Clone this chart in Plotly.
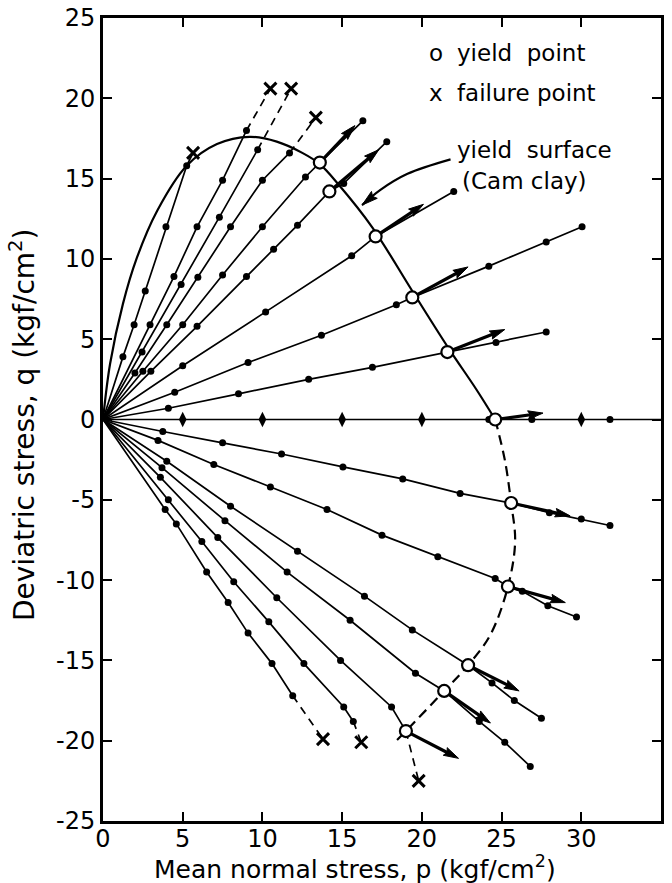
import math
import plotly.graph_objects as go

# ---------------- data (kgf/cm^2) ----------------
# compression-side stress paths (origin + measured points)
A_p = [0, 1.25, 1.95, 2.65, 3.95, 5.25]
A_q = [0, 3.9, 5.9, 8.0, 12.0, 15.8]
B_p = [0, 2.95, 4.45, 5.9, 7.5, 9.0]
B_q = [0, 5.9, 8.9, 12.0, 14.9, 18.0]
C_p = [0, 2.45, 4.9, 7.3, 9.7]
C_q = [0, 4.2, 8.4, 12.6, 16.8]
D_p = [0, 2.0, 4.0, 5.95, 8.0, 10.0, 11.7]
D_q = [0, 2.9, 5.9, 8.85, 12.0, 14.9, 16.6]
E_p = [0, 2.5, 5.0, 7.5, 10.0, 12.7, 16.3]
E_q = [0, 3.0, 5.9, 9.0, 12.0, 15.1, 18.6]
F_p = [0, 3.0, 5.9, 9.0, 10.7, 12.2, 15.1, 17.8]
F_q = [0, 3.0, 5.8, 8.9, 10.6, 12.1, 14.7, 17.3]
G_p = [0, 5.0, 10.2, 15.6, 22.0]
G_q = [0, 3.35, 6.7, 10.2, 14.2]
H_p = [0, 4.5, 9.1, 13.7, 18.4, 24.2, 27.8, 30.05]
H_q = [0, 1.7, 3.55, 5.25, 7.15, 9.55, 11.05, 12.0]
I_p = [0, 4.1, 8.5, 12.9, 16.9, 24.65, 27.8]
I_q = [0, 0.7, 1.6, 2.5, 3.25, 4.8, 5.45]

# isotropic path (q = 0)
Z_line_p = [0, 35]
Z_line_q = [0, 0]
Z_dot_p = [24.2, 26.9, 31.8]
Z_tick_p = [5, 10, 15, 20, 30]

# extension-side stress paths
J_p = [0, 3.75, 7.5, 11.2, 15.05, 18.8, 22.4, 28.0, 30.0, 31.8]
J_q = [0, -0.75, -1.45, -2.15, -2.95, -3.7, -4.6, -5.8, -6.2, -6.6]
K_p = [0, 3.45, 6.95, 10.5, 14.05, 17.5, 21.0, 24.6, 26.3, 27.9, 29.7]
K_q = [0, -1.3, -2.8, -4.2, -5.6, -7.2, -8.55, -9.9, -10.7, -11.6, -12.3]
L_p = [0, 4.0, 8.0, 12.2, 16.4, 19.4, 24.4, 25.8, 27.5]
L_q = [0, -2.6, -5.4, -8.2, -11.0, -13.1, -16.4, -17.5, -18.6]
M_p = [0, 3.7, 7.65, 11.55, 15.5, 19.6, 23.6, 25.2, 26.8]
M_q = [0, -3.0, -6.3, -9.5, -12.5, -15.8, -18.8, -20.1, -21.6]
N_p = [0, 3.6, 7.2, 10.9, 14.9, 18.1]
N_q = [0, -3.6, -7.35, -11.1, -15.0, -17.9]
O_p = [0, 4.1, 6.2, 8.2, 10.4, 12.6, 15.1, 15.7]
O_q = [0, -5.0, -7.6, -10.1, -12.6, -15.2, -17.9, -18.8]
P_p = [0, 3.9, 4.6, 6.5, 7.85, 9.1, 10.6, 11.9]
P_q = [0, -5.6, -6.5, -9.5, -11.4, -13.3, -15.2, -17.2]

# yield points (paths E, F, G, H, I, Z, J, K, L, M, N) and strain-increment arrow tips
yield_p = [13.6, 14.2, 17.1, 19.4, 21.6, 24.6, 25.6, 25.4, 22.9, 21.4, 19.0]
yield_q = [16.0, 14.2, 11.4, 7.6, 4.2, 0.0, -5.2, -10.4, -15.3, -16.9, -19.4]
tip_p = [15.8, 17.3, 20.1, 22.9, 25.2, 27.6, 29.3, 29.0, 26.1, 24.3, 22.3]
tip_q = [18.3, 16.8, 13.4, 9.5, 5.6, 0.4, -6.0, -11.4, -16.9, -18.9, -21.1]

# failure points (paths A, B, C, D, P, O, N)
fail_p = [5.65, 10.5, 11.8, 13.35, 13.8, 16.2, 19.8]
fail_q = [16.6, 20.6, 20.6, 18.8, -19.9, -20.1, -22.5]

# yield surface (Cam clay): solid part and dashed part
ys_p = [0, 0.45, 1.25, 2.1, 3.4, 5.25, 7.15, 9.2, 10.9, 12.5, 13.6, 14.8, 16.9, 19.4, 21.7, 23.4, 24.6]
ys_q = [0, 3.5, 7.2, 10.0, 13.0, 15.8, 17.15, 17.6, 17.3, 16.6, 15.9, 14.6, 11.95, 8.0, 4.4, 1.9, 0]
yd_p = [24.6, 25.2, 25.6, 25.85, 25.4, 24.3, 22.9, 21.4, 19.0, 18.4]
yd_q = [0, -2.5, -5.2, -7.6, -10.4, -13.4, -15.3, -16.9, -19.4, -20.0]

# callout curve from label to the yield surface
call_p = [21.8, 19.1, 17.4, 16.25]
call_q = [16.2, 15.3, 14.3, 13.35]

x_ticks = [0, 5, 10, 15, 20, 25, 30, 35]
x_ticktext = ["0", "5", "10", "15", "20", "25", "30", "35"]
y_ticks = [-25, -20, -15, -10, -5, 0, 5, 10, 15, 20, 25]
y_ticktext = ["-25", "-20", "-15", "-10", "-5", "0", "5", "10", "15", "20", "25"]

# ---------------- figure ----------------
W, H = 672, 883
ML, MR, MT, MB = 103, 11, 18, 62
PW, PH = W - ML - MR, H - MT - MB
SX = PW / 35.0
SY = PH / 50.0
FONT = "DejaVu Sans"

fig = go.Figure()


def add_line(px, py, dash=None, width=1.7, shape="linear"):
    fig.add_trace(go.Scatter(x=px, y=py, mode="lines",
                             line=dict(color="black", width=width, dash=dash, shape=shape),
                             hoverinfo="skip", showlegend=False))


def add_head(p0, q0, p1, q1, L=15.0, w=4.3):
    dx = (p1 - p0) * SX
    dy = (q1 - q0) * SY
    n = math.hypot(dx, dy)
    ux, uy = dx / n, dy / n
    nx, ny = -uy, ux
    bx, by = -ux * L, -uy * L
    pts = [(0, 0), (bx + nx * w, by + ny * w), (bx * 0.85, by * 0.85), (bx - nx * w, by - ny * w), (0, 0)]
    xs = [p1 + a / SX for a, b in pts]
    ys = [q1 + b / SY for a, b in pts]
    fig.add_trace(go.Scatter(x=xs, y=ys, mode="lines", fill="toself", fillcolor="black",
                             line=dict(color="black", width=1), hoverinfo="skip", showlegend=False))
    return p1 + bx * 0.6 / SX, q1 + by * 0.6 / SY


# yield surface
add_line(ys_p, ys_q, width=2.2, shape="spline")
add_line(yd_p, yd_q, width=2.2, dash="10px,6px", shape="spline")

comp_paths = [(A_p, A_q), (B_p, B_q), (C_p, C_q), (D_p, D_q), (E_p, E_q), (F_p, F_q),
              (G_p, G_q), (H_p, H_q), (I_p, I_q)]
ext_paths = [(J_p, J_q), (K_p, K_q), (L_p, L_q), (M_p, M_q), (N_p, N_q), (O_p, O_q), (P_p, P_q)]
yield_paths = [(E_p, E_q), (F_p, F_q), (G_p, G_q), (H_p, H_q), (I_p, I_q), (Z_line_p, Z_line_q),
               (J_p, J_q), (K_p, K_q), (L_p, L_q), (M_p, M_q), (N_p, N_q)]
fail_paths = [(A_p, A_q, False), (B_p, B_q, True), (C_p, C_q, True), (D_p, D_q, True),
              (P_p, P_q, True), (O_p, O_q, True), (N_p, N_q, True)]

# solid path lines (including their yield points)
solid = {}
for (pp, qq) in comp_paths + ext_paths:
    solid[id(pp)] = list(zip(pp, qq))
for i, (pp, qq) in enumerate(yield_paths):
    if id(pp) in solid:
        solid[id(pp)].append((yield_p[i], yield_q[i]))
for (pp, qq) in comp_paths + ext_paths:
    pts = sorted(solid[id(pp)], key=lambda t: t[0])
    add_line([a for a, b in pts], [b for a, b in pts])
add_line(Z_line_p, Z_line_q)

# failure extensions
for i, (pp, qq, dashed) in enumerate(fail_paths):
    pts = sorted(solid[id(pp)], key=lambda t: t[0])
    last = pts[-1]
    add_line([last[0], fail_p[i]], [last[1], fail_q[i]],
             dash=("8px,6px" if dashed else None), width=1.7)

# strain increment arrows
for i in range(len(yield_p)):
    bp, bq = add_head(yield_p[i], yield_q[i], tip_p[i], tip_q[i])
    add_line([yield_p[i], bp], [yield_q[i], bq], width=3.2)

# dots along paths
dot_x, dot_y = [], []
for (pp, qq) in comp_paths + ext_paths:
    dot_x += pp[1:]
    dot_y += qq[1:]
dot_x += Z_dot_p
dot_y += [0] * len(Z_dot_p)
fig.add_trace(go.Scatter(x=dot_x, y=dot_y, mode="markers",
                         marker=dict(symbol="circle", size=7, color="black"),
                         hoverinfo="skip", showlegend=False))
fig.add_trace(go.Scatter(x=Z_tick_p, y=[0] * len(Z_tick_p), mode="markers",
                         marker=dict(symbol="diamond-tall", size=11, color="black"),
                         hoverinfo="skip", showlegend=False))

# yield points
fig.add_trace(go.Scatter(x=yield_p, y=yield_q, mode="markers",
                         marker=dict(symbol="circle", size=12, color="white",
                                     line=dict(color="black", width=2.2)),
                         hoverinfo="skip", showlegend=False))
# failure points
fig.add_trace(go.Scatter(x=fail_p, y=fail_q, mode="markers",
                         marker=dict(symbol="x-thin", size=12, color="black",
                                     line=dict(color="black", width=3)),
                         hoverinfo="skip", showlegend=False))

# callout
add_line(call_p, call_q, width=2.2, shape="spline")
add_head(call_p[-2], call_q[-2], call_p[-1], call_q[-1], L=16, w=4.5)

# texts
txt = dict(xref="x", yref="y", showarrow=False, xanchor="left", yanchor="middle",
           font=dict(family=FONT, size=23, color="black"))
fig.add_annotation(x=20.3, y=22.8, text="o", **txt)
fig.add_annotation(x=22.1, y=22.8, text="yield\u00a0\u00a0point", **txt)
fig.add_annotation(x=20.3, y=20.3, text="x", **txt)
fig.add_annotation(x=22.1, y=20.3, text="failure\u00a0point", **txt)
fig.add_annotation(x=22.1, y=16.8, text="yield\u00a0\u00a0surface", **txt)
fig.add_annotation(x=22.4, y=14.85, text="(Cam\u00a0clay)", **txt)

# axis titles (placed as annotations to match the reference position)
fig.add_annotation(xref="paper", yref="paper", x=(355 - ML) / PW, y=-(867 - (MT + PH)) / PH,
                   text="Mean normal stress, p (kgf/cm<sup>2</sup>)", showarrow=False,
                   xanchor="center", yanchor="middle",
                   font=dict(family=FONT, size=25, color="black"))
fig.add_annotation(xref="paper", yref="paper", x=-(ML - 22) / PW, y=(MT + PH - 425) / PH,
                   text="Deviatric stress, q (kgf/cm<sup>2</sup>)", showarrow=False,
                   textangle=-90, xanchor="center", yanchor="middle",
                   font=dict(family=FONT, size=28, color="black"))

axis_common = dict(showline=True, linewidth=3, linecolor="black", mirror="ticks",
                   ticks="inside", ticklen=9, tickwidth=2, tickcolor="black",
                   showgrid=False, zeroline=False,
                   tickfont=dict(family=FONT, size=24, color="black"))

fig.update_layout(
    width=W, height=H,
    margin=dict(l=ML, r=MR, t=MT, b=MB, autoexpand=False),
    paper_bgcolor="white", plot_bgcolor="white",
    showlegend=False,
    font=dict(family=FONT, color="black"),
    xaxis=dict(range=[0, 35], tickvals=x_ticks, ticktext=x_ticktext,
               ticklabelstandoff=-6, **axis_common),
    yaxis=dict(range=[-25, 25], tickvals=y_ticks, ticktext=y_ticktext, **axis_common),
)

fig.write_html("out.html")
